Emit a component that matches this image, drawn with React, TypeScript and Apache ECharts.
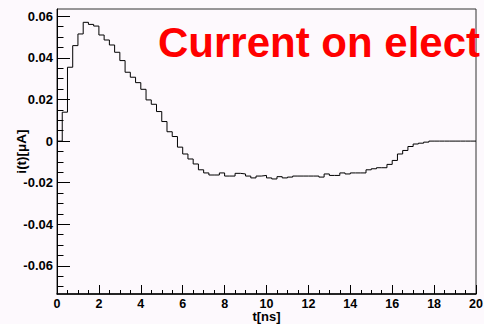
import React, { useEffect, useRef } from "react";
import * as echarts from "echarts";

// Histogram of the induced current, 80 bins of 0.25 ns between 0 and 20 ns
const binWidth = 0.25;
const currentValues: number[] = [
  0, 0.0139, 0.0355, 0.0459, 0.0515, 0.0571, 0.0561, 0.0553, 0.051, 0.0486,
  0.0462, 0.0427, 0.0387, 0.0331, 0.0307, 0.0281, 0.0249, 0.0198, 0.0177, 0.0142,
  0.0094, 0.0045, 0.0022, -0.0029, -0.0062, -0.0086, -0.011, -0.0138, -0.0153, -0.0163,
  -0.0163, -0.0153, -0.0168, -0.0168, -0.0155, -0.0158, -0.0168, -0.0177, -0.0168, -0.0165,
  -0.0177, -0.0182, -0.0171, -0.0177, -0.0173, -0.0168, -0.0168, -0.0168, -0.0168, -0.0168,
  -0.0173, -0.0158, -0.0165, -0.0165, -0.0153, -0.0158, -0.0153, -0.0153, -0.0153, -0.0138,
  -0.0133, -0.0128, -0.0128, -0.0112, -0.0093, -0.0062, -0.0045, -0.0026, -0.0014, -0.001,
  -0.0005, 0, 0, 0, 0, 0, 0, 0, 0, 0,
];

const xMin = 0;
const xMax = 20;
const yMin = -0.0735;
const yMax = 0.0635;
const yMajorTicks = [-0.06, -0.04, -0.02, 0, 0.02, 0.04, 0.06];
const yMinorTicks = [
  -0.07, -0.065, -0.055, -0.05, -0.045, -0.035, -0.03, -0.025, -0.015, -0.01, -0.005,
  0.005, 0.01, 0.015, 0.025, 0.03, 0.035, 0.045, 0.05, 0.055,
];

const titleText = "Current on elect";
const xTitle = "t[ns]";
const yTitle = "i(t)[\u03bcA]";

const FONT = "'Liberation Sans', Arial, Helvetica, sans-serif";

export default function App() {
  const ref = useRef<HTMLDivElement>(null);

  useEffect(() => {
    if (!ref.current) return;
    const chart = echarts.init(ref.current, undefined, { renderer: "svg" });

    // left bin edges with their contents, closed at the upper edge
    const points: [number, number][] = currentValues.map((v, i) => [i * binWidth, v]);
    points.push([currentValues.length * binWidth, currentValues[currentValues.length - 1]]);

    const axisColor = "#000";

    chart.setOption({
      animation: false,
      backgroundColor: "#fdf9fd",
      grid: {
        left: 57,
        right: 8,
        top: 9,
        bottom: 30,
        outerBoundsMode: "none",
        containLabel: false,
        show: true,
        borderColor: "#333",
        borderWidth: 1,
        backgroundColor: "transparent",
      },
      graphic: [
        {
          type: "text",
          x: 158,
          y: 42,
          z: 1,
          style: {
            text: titleText,
            fill: "#ff0000",
            font: `bold 42px ${FONT}`,
            verticalAlign: "middle",
            align: "left",
          },
        },
      ],
      xAxis: {
        type: "value",
        min: xMin,
        max: xMax,
        interval: 2,
        name: xTitle,
        nameLocation: "middle",
        nameGap: 16,
        nameMoveOverlap: false,
        nameTextStyle: {
          color: "#000",
          fontWeight: "bold",
          fontSize: 13,
          lineHeight: 13,
          fontFamily: FONT,
        },
        axisLine: { show: true, onZero: false, lineStyle: { color: axisColor, width: 1.5 } },
        axisTick: { show: true, inside: true, length: 9, lineStyle: { color: axisColor } },
        minorTick: { show: true, splitNumber: 4, length: 4, lineStyle: { color: axisColor } },
        splitLine: { show: false },
        axisLabel: {
          color: "#000",
          fontWeight: "bold",
          fontSize: 12.5,
          lineHeight: 9,
          fontFamily: FONT,
          margin: 5.5,
        },
      },
      yAxis: [
        {
          type: "value",
          min: yMin,
          max: yMax,
          name: yTitle,
          nameLocation: "middle",
          nameGap: 29,
          nameMoveOverlap: false,
          nameTextStyle: { color: "#000", fontWeight: "bold", fontSize: 13.5, fontFamily: FONT },
          axisLine: { show: true, onZero: false, lineStyle: { color: axisColor, width: 1 } },
          axisTick: {
            show: true,
            inside: true,
            length: 13,
            customValues: yMajorTicks,
            lineStyle: { color: axisColor },
          },
          splitLine: { show: false },
          axisLabel: {
            customValues: yMajorTicks,
            color: "#000",
            fontWeight: "bold",
            fontSize: 13,
            fontFamily: FONT,
            margin: 4,
            formatter: (v: number) => (Math.abs(v) < 1e-9 ? "0" : v.toFixed(2)),
          },
        },
        {
          type: "value",
          position: "left",
          min: yMin,
          max: yMax,
          axisLine: { show: false, onZero: false },
          axisTick: {
            show: true,
            inside: true,
            length: 6.5,
            customValues: yMinorTicks,
            lineStyle: { color: axisColor },
          },
          axisLabel: { show: false },
          splitLine: { show: false },
        },
      ],
      series: [
        {
          type: "line",
          step: "end",
          data: points,
          showSymbol: false,
          symbol: "none",
          lineStyle: { color: "#000", width: 1 },
          z: 3,
        },
      ],
    });

    return () => chart.dispose();
  }, []);

  return (
    <div
      ref={ref}
      style={{ position: "fixed", left: 0, top: 0, width: 484, height: 324 }}
    />
  );
}
